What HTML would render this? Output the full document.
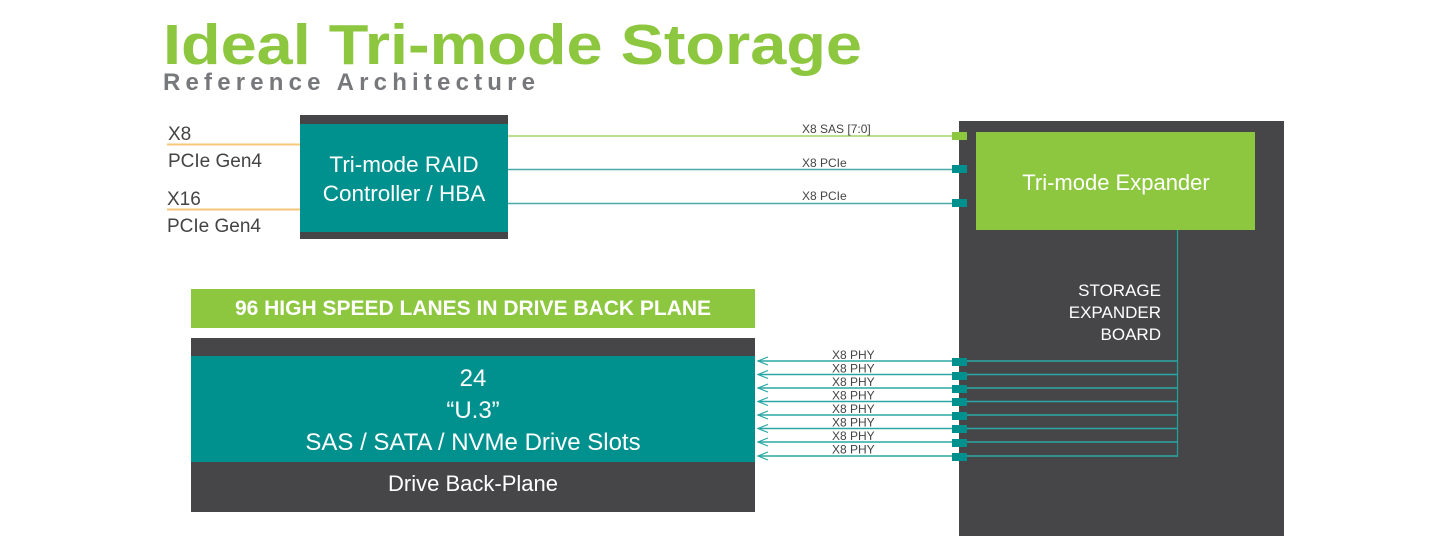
<!DOCTYPE html>
<html><head><meta charset="utf-8"><style>
html,body{margin:0;padding:0;background:#fff;}
svg{display:block;font-family:"Liberation Sans",sans-serif;}
</style></head><body>
<svg width="1440" height="553" viewBox="0 0 1440 553" xmlns="http://www.w3.org/2000/svg">
<defs>
<marker id="ar" markerWidth="12" markerHeight="10" refX="1" refY="5" orient="auto" markerUnits="userSpaceOnUse">
<path d="M11,1 L1,5 L11,9" fill="none" stroke="#2aa7a5" stroke-width="1.2"/>
</marker>
</defs>
<text x="163" y="64" font-size="57" font-weight="bold" fill="#8dc63f" textLength="699" lengthAdjust="spacingAndGlyphs">Ideal Tri-mode Storage</text>
<text x="163" y="90" font-size="24" font-weight="bold" fill="#77787b" textLength="372" lengthAdjust="spacing">Reference Architecture</text>

<line x1="167" y1="144.5" x2="300" y2="144.5" stroke="#f6c77a" stroke-width="2"/>
<line x1="167" y1="209.5" x2="300" y2="209.5" stroke="#f6c77a" stroke-width="2"/>
<g font-size="19" fill="#444">
<text x="168" y="140">X8</text>
<text x="168" y="167">PCIe Gen4</text>
<text x="167" y="205">X16</text>
<text x="167" y="232">PCIe Gen4</text>
</g>

<rect x="300" y="115" width="208" height="124" fill="#464648"/>
<rect x="300" y="124" width="208" height="108" fill="#00918f"/>
<text x="404" y="172" font-size="22.5" fill="#fff" text-anchor="middle">Tri-mode RAID</text>
<text x="404" y="201" font-size="22.5" fill="#fff" text-anchor="middle">Controller / HBA</text>

<line x1="508" y1="136" x2="955" y2="136" stroke="#a6d66a" stroke-width="1.5"/>
<line x1="508" y1="169.5" x2="955" y2="169.5" stroke="#4aa9a8" stroke-width="1.5"/>
<line x1="508" y1="203.5" x2="955" y2="203.5" stroke="#4aa9a8" stroke-width="1.5"/>
<g font-size="12" fill="#444">
<text x="802" y="133">X8 SAS [7:0]</text>
<text x="802" y="167">X8 PCIe</text>
<text x="802" y="200">X8 PCIe</text>
</g>

<rect x="959" y="121" width="325" height="415" fill="#464648"/>
<rect x="952" y="132" width="15" height="8" fill="#8dc63f"/>
<rect x="952" y="165" width="15" height="8" fill="#00918f"/>
<rect x="952" y="199" width="15" height="8" fill="#00918f"/>
<rect x="976" y="132" width="279" height="98" fill="#8dc63f"/>
<text x="1116" y="190" font-size="22" fill="#fff" text-anchor="middle">Tri-mode Expander</text>
<line x1="1177.5" y1="230" x2="1177.5" y2="457" stroke="#1aa3a1" stroke-width="1.2"/>
<g font-size="17" fill="#fff" text-anchor="end">
<text x="1161" y="296">STORAGE</text>
<text x="1161" y="318">EXPANDER</text>
<text x="1161" y="340">BOARD</text>
</g>

<rect x="191" y="289" width="564" height="39" fill="#8dc63f"/>
<text x="473" y="315" font-size="21" font-weight="bold" fill="#fff" text-anchor="middle">96 HIGH SPEED LANES IN DRIVE BACK PLANE</text>

<rect x="191" y="338" width="564" height="174" fill="#464648"/>
<rect x="191" y="356" width="564" height="106" fill="#00918f"/>
<g font-size="24" fill="#fff" text-anchor="middle">
<text x="473" y="386">24</text>
<text x="473" y="418">“U.3”</text>
<text x="473" y="450">SAS / SATA / NVMe Drive Slots</text>
</g>
<text x="473" y="491" font-size="22" fill="#fff" text-anchor="middle">Drive Back-Plane</text>

<g stroke-width="1.5">
<line x1="758" y1="361" x2="1177" y2="361" stroke="#2aa7a5" marker-start="url(#ar)"/>
<line x1="758" y1="374.5" x2="1177" y2="374.5" stroke="#2aa7a5" marker-start="url(#ar)"/>
<line x1="758" y1="388" x2="1177" y2="388" stroke="#2aa7a5" marker-start="url(#ar)"/>
<line x1="758" y1="401.5" x2="1177" y2="401.5" stroke="#2aa7a5" marker-start="url(#ar)"/>
<line x1="758" y1="415" x2="1177" y2="415" stroke="#2aa7a5" marker-start="url(#ar)"/>
<line x1="758" y1="428.5" x2="1177" y2="428.5" stroke="#2aa7a5" marker-start="url(#ar)"/>
<line x1="758" y1="442" x2="1177" y2="442" stroke="#2aa7a5" marker-start="url(#ar)"/>
<line x1="758" y1="456" x2="1177" y2="456" stroke="#2aa7a5" marker-start="url(#ar)"/>
</g>
<g fill="#00918f">
<rect x="952" y="358" width="15" height="8"/>
<rect x="952" y="372" width="15" height="8"/>
<rect x="952" y="385" width="15" height="8"/>
<rect x="952" y="398" width="15" height="8"/>
<rect x="952" y="412" width="15" height="8"/>
<rect x="952" y="425" width="15" height="8"/>
<rect x="952" y="439" width="15" height="8"/>
<rect x="952" y="453" width="15" height="8"/>
</g>
<g font-size="12" fill="#444">
<text x="832" y="359">X8 PHY</text>
<text x="832" y="372.5">X8 PHY</text>
<text x="832" y="386">X8 PHY</text>
<text x="832" y="399.5">X8 PHY</text>
<text x="832" y="413">X8 PHY</text>
<text x="832" y="426.5">X8 PHY</text>
<text x="832" y="440">X8 PHY</text>
<text x="832" y="453.5">X8 PHY</text>
</g>
</svg>
</body></html>
